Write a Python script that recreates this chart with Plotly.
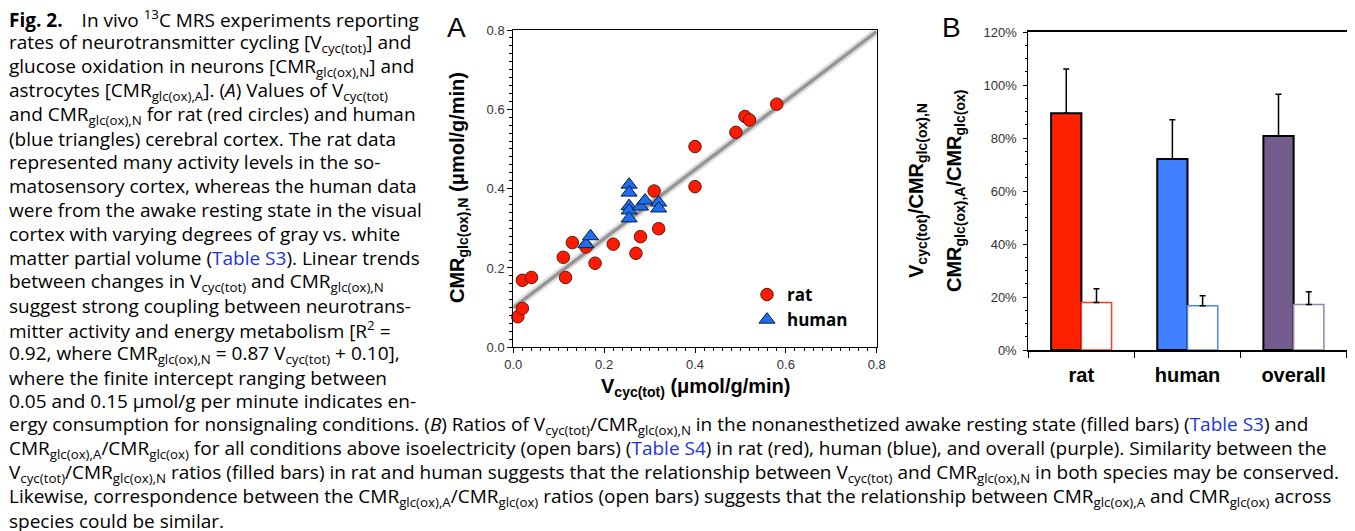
import plotly.graph_objects as go

# ---------------- data ----------------
rat_v = [0.01, 0.02, 0.02, 0.04, 0.11, 0.115, 0.13, 0.16, 0.18, 0.22, 0.27, 0.28,
         0.31, 0.32, 0.40, 0.40, 0.49, 0.51, 0.52, 0.58]
rat_cmr = [0.077, 0.098, 0.169, 0.176, 0.227, 0.176, 0.264, 0.253, 0.212, 0.260, 0.237, 0.279,
           0.394, 0.299, 0.506, 0.405, 0.542, 0.582, 0.573, 0.613]
human_v = [0.16, 0.17, 0.255, 0.255, 0.255, 0.255, 0.255, 0.28, 0.29, 0.32, 0.32]
human_cmr = [0.26, 0.28, 0.41, 0.39, 0.356, 0.345, 0.325, 0.355, 0.37, 0.365, 0.35]
fit_slope = 0.87
fit_intercept = 0.10
fit_range = [0.0, 0.8]

categories = ["rat", "human", "overall"]
filled_ratio = [89.3, 72.1, 80.8]
filled_err = [16.7, 14.8, 15.7]
open_ratio = [17.9, 16.7, 17.2]
open_err = [5.2, 3.8, 4.8]
filled_colors = ["#FF2200", "#4080FF", "#735C8C"]
open_line_colors = ["#FF3A28", "#4A86F0", "#9484AE"]

W, H = 1355, 531
OFF = 8  # page body margin of the html page

def px(x):
    return (x - OFF) / W

def py(y):
    return (H - (y - OFF)) / H

fig = go.Figure()

# ---------------- panel A ----------------
fit_y = [fit_slope * v + fit_intercept for v in fit_range]
fig.add_trace(go.Scatter(x=fit_range, y=fit_y, mode="lines", showlegend=False,
                         line=dict(color="rgba(0,0,0,0.13)", width=8), hoverinfo="skip",
                         xaxis="x", yaxis="y", cliponaxis=False))
fig.add_trace(go.Scatter(x=fit_range, y=fit_y, mode="lines", showlegend=False,
                         line=dict(color="rgb(150,150,150)", width=3.5), hoverinfo="skip",
                         xaxis="x", yaxis="y", cliponaxis=False))
fig.add_trace(go.Scatter(x=rat_v, y=rat_cmr, mode="markers", name="rat",
                         marker=dict(symbol="circle", size=12.5, color="#FF1A00",
                                     line=dict(color="#5a1a10", width=1)),
                         xaxis="x", yaxis="y", cliponaxis=False))
fig.add_trace(go.Scatter(x=human_v, y=human_cmr, mode="markers", name="human",
                         marker=dict(symbol="triangle-up", size=14, color="#1E6EF0",
                                     line=dict(color="#0a1a40", width=1)),
                         xaxis="x", yaxis="y", cliponaxis=False))

# ---------------- panel B ----------------
fig.add_trace(go.Bar(x=categories, y=filled_ratio, showlegend=False,
                     marker=dict(color=filled_colors, line=dict(color="black", width=2)),
                     error_y=dict(type="data", symmetric=False, array=filled_err,
                                  arrayminus=[0, 0, 0], color="black", thickness=1.5, width=3),
                     xaxis="x2", yaxis="y2"))
fig.add_trace(go.Bar(x=categories, y=open_ratio, showlegend=False,
                     marker=dict(color="white", line=dict(color=open_line_colors, width=1.5)),
                     error_y=dict(type="data", symmetric=False, array=open_err,
                                  arrayminus=[0, 0, 0], color="black", thickness=1.5, width=3),
                     xaxis="x2", yaxis="y2"))

tickfont = dict(family="Liberation Sans, Arial", size=13, color="#333333")

fig.update_layout(
    width=W, height=H, autosize=False,
    margin=dict(l=0, r=0, t=0, b=0, pad=0, autoexpand=False),
    paper_bgcolor="white", plot_bgcolor="white",
    barmode="group", bargap=0.43, bargroupgap=0,
    xaxis=dict(domain=[px(513.3), px(876.7)], range=[0, 0.8], dtick=0.2, tickformat=".1f",
               showline=True, linecolor="black", linewidth=1, mirror=True, automargin=False,
               ticks="outside", ticklen=5, tickcolor="black", showgrid=False, zeroline=False,
               tickfont=tickfont,
               minor=dict(dtick=0.02, ticks="outside", ticklen=3, tickcolor="black", showgrid=False)),
    yaxis=dict(domain=[py(347.3), py(30)], range=[0, 0.8], dtick=0.2, tickformat=".1f",
               showline=True, linecolor="black", linewidth=1, mirror=True, automargin=False,
               ticks="outside", ticklen=5, tickcolor="black", showgrid=False, zeroline=False,
               tickfont=tickfont,
               minor=dict(dtick=0.02, ticks="outside", ticklen=3, tickcolor="black", showgrid=False)),
    xaxis2=dict(domain=[px(1028.3), px(1346.7)], anchor="y2", automargin=False,
                showline=True, linecolor="black", linewidth=1.5, mirror=True,
                ticks="outside", tickson="boundaries", ticklen=6, tickcolor="black",
                showgrid=False, zeroline=False, ticklabelstandoff=6,
                tickfont=dict(family="Liberation Sans, Arial", size=20, color="black", weight="bold")),
    yaxis2=dict(domain=[py(350), py(32)], anchor="x2", range=[0, 120], dtick=20, ticksuffix="%",
                showline=True, linecolor="black", linewidth=1, mirror=True, automargin=False,
                ticks="outside", ticklen=4, tickcolor="black", showgrid=False, zeroline=False,
                tickfont=tickfont, ticklabelstandoff=4,
                minor=dict(dtick=5, ticks="outside", ticklen=2, tickcolor="black", showgrid=False)),
    legend=dict(x=px(747), y=py(277), xanchor="left", yanchor="top",
                bgcolor="rgba(0,0,0,0)",
                font=dict(family="Open Sans", size=17, color="black", weight="bold"),
                tracegroupgap=0),
    showlegend=True,
)

ann = []
title_font = dict(family="Liberation Sans, Arial", size=20, color="black")

# axis titles (bold)
ann.append(dict(x=px(695), y=py(388), xref="paper", yref="paper", showarrow=False,
                text="<b>V<sub>cyc(tot)</sub> (μmol/g/min)</b>", font=title_font,
                xanchor="center", yanchor="middle"))
ann.append(dict(x=px(458), y=py(188), xref="paper", yref="paper", showarrow=False,
                text="<b>CMR<sub>glc(ox),N</sub> (μmol/g/min)</b>", font=title_font, textangle=-90,
                xanchor="center", yanchor="middle"))
ann.append(dict(x=px(917), y=py(191), xref="paper", yref="paper", showarrow=False,
                text="<b>V<sub>cyc(tot)</sub>/CMR<sub>glc(ox),N</sub></b>", font=title_font, textangle=-90,
                xanchor="center", yanchor="middle"))
ann.append(dict(x=px(955), y=py(191), xref="paper", yref="paper", showarrow=False,
                text="<b>CMR<sub>glc(ox),A</sub>/CMR<sub>glc(ox)</sub></b>", font=title_font, textangle=-90,
                xanchor="center", yanchor="middle"))
# panel letters
ann.append(dict(x=px(456), y=py(28), xref="paper", yref="paper", showarrow=False, text="A",
                font=dict(family="Liberation Sans, Arial", size=28, color="black"),
                xanchor="center", yanchor="middle"))
ann.append(dict(x=px(951), y=py(28), xref="paper", yref="paper", showarrow=False, text="B",
                font=dict(family="Liberation Sans, Arial", size=28, color="black"),
                xanchor="center", yanchor="middle"))

LINK = "#1a35e0"
def link(t):
    return f"<span style='color:{LINK}'>{t}</span>"

caption_lines = [
    "<b>Fig. 2.</b>\u2003In vivo <sup>13</sup>C MRS experiments reporting",
    "rates of neurotransmitter cycling [V<sub>cyc(tot)</sub>] and",
    "glucose oxidation in neurons [CMR<sub>glc(ox),N</sub>] and",
    "astrocytes [CMR<sub>glc(ox),A</sub>]. (<i>A</i>) Values of V<sub>cyc(tot)</sub>",
    "and CMR<sub>glc(ox),N</sub> for rat (red circles) and human",
    "(blue triangles) cerebral cortex. The rat data",
    "represented many activity levels in the so-",
    "matosensory cortex, whereas the human data",
    "were from the awake resting state in the visual",
    "cortex with varying degrees of gray vs. white",
    "matter partial volume (" + link("Table S3") + "). Linear trends",
    "between changes in V<sub>cyc(tot)</sub> and CMR<sub>glc(ox),N</sub>",
    "suggest strong coupling between neurotrans-",
    "mitter activity and energy metabolism [R<sup>2</sup> =",
    "0.92, where CMR<sub>glc(ox),N</sub> = 0.87 V<sub>cyc(tot)</sub> + 0.10],",
    "where the finite intercept ranging between",
    "0.05 and 0.15 μmol/g per minute indicates en-",
    "ergy consumption for nonsignaling conditions. (<i>B</i>) Ratios of V<sub>cyc(tot)</sub>/CMR<sub>glc(ox),N</sub> in the nonanesthetized awake resting state (filled bars) (" + link("Table S3") + ") and",
    "CMR<sub>glc(ox),A</sub>/CMR<sub>glc(ox)</sub> for all conditions above isoelectricity (open bars) (" + link("Table S4") + ") in rat (red), human (blue), and overall (purple). Similarity between the",
    "V<sub>cyc(tot)</sub>/CMR<sub>glc(ox),N</sub> ratios (filled bars) in rat and human suggests that the relationship between V<sub>cyc(tot)</sub> and CMR<sub>glc(ox),N</sub> in both species may be conserved.",
    "Likewise, correspondence between the CMR<sub>glc(ox),A</sub>/CMR<sub>glc(ox)</sub> ratios (open bars) suggests that the relationship between CMR<sub>glc(ox),A</sub> and CMR<sub>glc(ox)</sub> across",
    "species could be similar.",
]
cap_font = dict(family="Open Sans", size=19, color="black")
for i, line in enumerate(caption_lines):
    center = 19 + i * 23.9
    ann.append(dict(x=px(OFF), y=py(center), xref="paper", yref="paper", showarrow=False,
                    text=line, font=cap_font, xanchor="left", yanchor="middle", align="left",
                    borderpad=0))

fig.update_layout(annotations=ann)
fig.write_html("out.html")
